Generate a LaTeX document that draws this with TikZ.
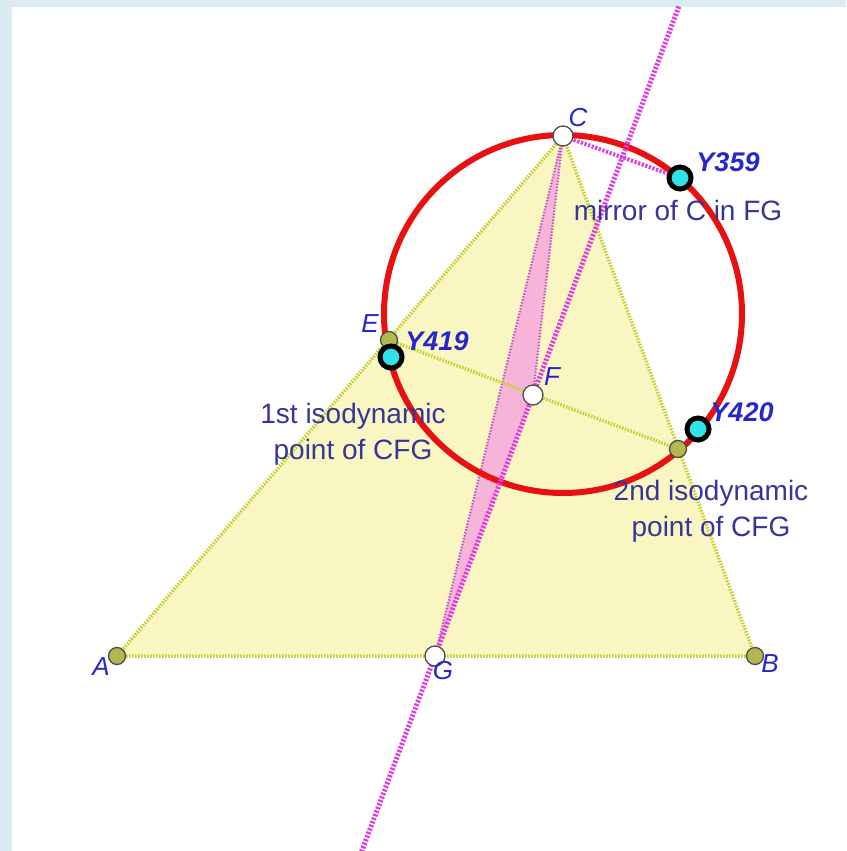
\documentclass[tikz,border=0pt]{standalone}
\usepackage{fontspec}
\setmainfont{Liberation Sans}
\usetikzlibrary{calc}

\definecolor{fondo}{HTML}{DAEBF2}
\definecolor{amarillo}{HTML}{FAF6C2}
\definecolor{borde}{HTML}{C4CF2C}
\definecolor{oliva}{HTML}{B3B94E}
\definecolor{rosa}{HTML}{F6B5D8}
\definecolor{lineamag}{HTML}{E03CE0}
\definecolor{violeta}{HTML}{C058C8}
\definecolor{rojo}{HTML}{E81010}
\definecolor{cian}{HTML}{30E2EA}
\definecolor{azul}{HTML}{2626CC}
\definecolor{texto}{HTML}{36369A}

\tikzset{
  pto/.style={circle, draw=black!70, line width=1.3pt, fill=oliva, minimum size=17pt, inner sep=0pt},
  ptob/.style={pto, fill=white, minimum size=20pt},
  ptoy/.style={circle, draw=black, line width=5pt, fill=cian, minimum size=22pt, inner sep=0pt},
  etiq/.style={text=azul, font=\fontsize{26}{30}\selectfont\itshape},
  etiqy/.style={text=azul, font=\fontsize{27}{30}\selectfont\bfseries\itshape},
  desc/.style={text=texto, align=center, font=\fontsize{28}{36}\selectfont},
  lado/.style={draw=borde, line width=3.5pt, dash pattern=on 1.5pt off 1.5pt},
  fino/.style={draw=violeta, line width=2.2pt, dash pattern=on 1.5pt off 1.5pt},
  recta/.style={draw=lineamag, line width=5pt, dash pattern=on 2.2pt off 1.6pt}
}

\begin{document}
\begin{tikzpicture}[x=1pt,y=-1pt]
    % Fondo
    \fill[fondo] (0,0) rectangle (846,851);
    \fill[white] (12,7) rectangle (846,851);
    \useasboundingbox (0,0) rectangle (846,851);

    % Puntos
    \coordinate (A) at (117,656);
    \coordinate (B) at (755,656);
    \coordinate (C) at (563,136);
    \coordinate (G) at (435,656);
    \coordinate (F) at (533,395);
    \coordinate (E) at (389,340);
    \coordinate (D) at (678,449);
    \coordinate (O) at (563,314);
    \coordinate (Y359) at (680,178);
    \coordinate (Y419) at (391,357);
    \coordinate (Y420) at (698,429);
    \coordinate (arriba) at ($(G)!2.49!(F)$);
    \coordinate (abajo) at ($(G)!-0.75!(F)$);

    % Triangulo ABC y triangulo CFG
    \fill[amarillo] (A) -- (B) -- (C) -- cycle;
    \fill[rosa] (C) -- (F) -- (G) -- cycle;
    \draw[lado] (A) -- (B) -- (C) -- cycle;
    \draw[fino] (C) -- (G);
    \draw[fino] (C) -- (F);
    \draw[lado] (E) -- (D);

    % Circulo
    \draw[rojo, line width=6pt] (O) circle (179);

    % Recta FG y segmento a Y359
    \draw[recta] (abajo) -- (arriba);
    \draw[recta, line width=4pt] (C) -- (Y359);

    % Marcas de los puntos
    \foreach \p in {A,B,E,D} {
        \node[pto] (p\p) at (\p) {};
    }
    \foreach \p in {C,F,G} {
        \node[ptob] (p\p) at (\p) {};
    }
    \foreach \p in {Y359,Y419,Y420} {
        \node[ptoy] (p\p) at (\p) {};
    }

    % Etiquetas
    \node[etiq] (lA) at (101,667) {A};
    \node[etiq] (lB) at (770,664) {B};
    \node[etiq] (lC) at (578,118) {C};
    \node[etiq] (lE) at (370,324) {E};
    \node[etiq] (lF) at (552,377) {F};
    \node[etiq] (lG) at (443,671) {G};
    \node[etiqy] (l359) at (728,162) {Y359};
    \node[etiqy] (l419) at (437,341) {Y419};
    \node[etiqy] (l420) at (742,412) {Y420};
    \node[desc] (d359) at (678,210) {mirror of C in FG};
    \node[desc] (d419) at (353,434) {1st isodynamic\\point of CFG};
    \node[desc] (d420) at (711,511) {2nd isodynamic\\point of CFG};
\end{tikzpicture}
\end{document}
